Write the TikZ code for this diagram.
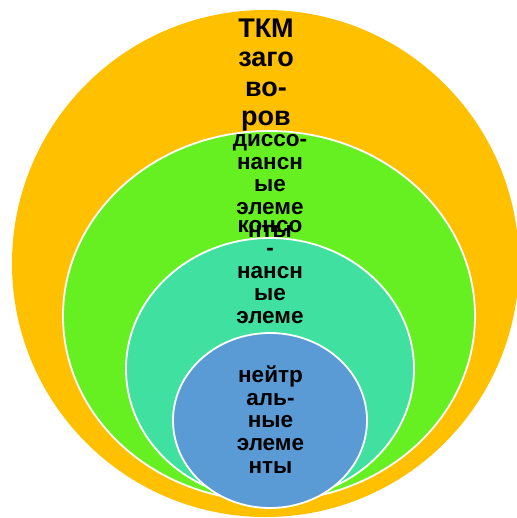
\documentclass[tikz,border=0pt]{standalone}
\usepackage{fontspec}
\newfontfamily\lab{Liberation Sans}
\definecolor{cOrange}{HTML}{FFC000}
\definecolor{cGreen}{HTML}{66F022}
\definecolor{cTeal}{HTML}{40E0A0}
\definecolor{cBlue}{HTML}{5B9BD5}
\begin{document}
\begin{tikzpicture}[x=1pt,y=-1pt,
  ring/.style={draw=white,line width=1.8pt},
  bigtxt/.style={font=\lab\bfseries\fontsize{27}{29}\selectfont,anchor=base,inner sep=0pt},
  smalltxt/.style={font=\lab\bfseries\fontsize{22.5}{23}\selectfont,anchor=base,inner sep=0pt}]
\useasboundingbox (0,0) rectangle (516,518);
% outer ring
\fill[cOrange] (265.5,263.5) ellipse [x radius=253.5pt, y radius=253.5pt];
\foreach \t/\y [count=\i] in {ТКМ/38, заго/67, во-/97, ров/126}
  \node[bigtxt] (o\i) at (266,\y) {\t};
% green
\filldraw[cGreen,ring] (269,316) ellipse [x radius=206pt, y radius=185pt];
\foreach \t/\y [count=\i] in {диссо-/147, нансн/169.5, ые/192, элеме/214.5, нты/237}
  \node[smalltxt] (g\i) at (270,\y) {\t};
% teal
\filldraw[cTeal,ring] (270,369) ellipse [x radius=144pt, y radius=131pt];
\foreach \t/\y [count=\i] in {консо/233, -/255.5, нансн/278, ые/300.5, элеме/323}
  \node[smalltxt] (t\i) at (270,\y) {\t};
% blue
\filldraw[cBlue,ring] (270,420.5) ellipse [x radius=97pt, y radius=87.5pt];
\foreach \t/\y [count=\i] in {нейтр/382, аль-/405, ные/427.5, элеме/450, нты/473}
  \node[smalltxt] (b\i) at (270.5,\y) {\t};
\end{tikzpicture}
\end{document}
